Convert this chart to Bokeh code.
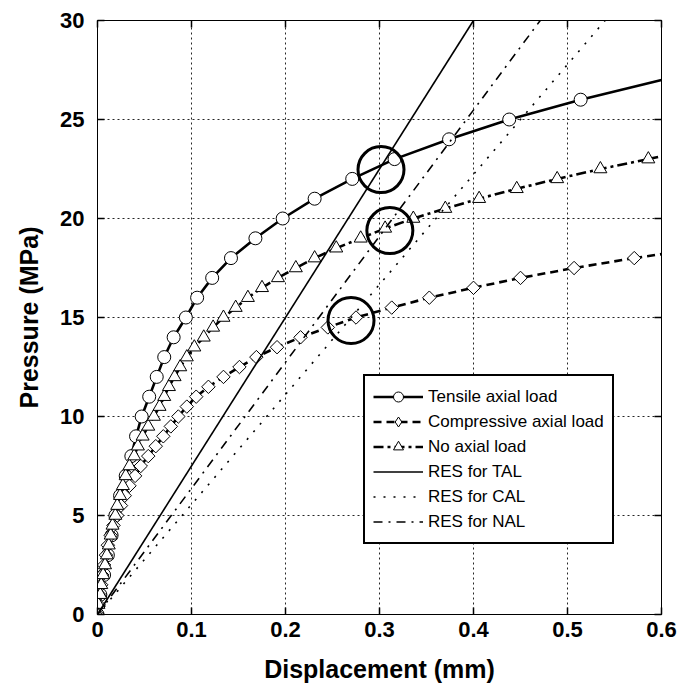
import numpy as np
from bokeh.plotting import figure
from bokeh.models import (Range1d, FixedTicker, CustomJSTickFormatter, LinearAxis,
                          Legend, LegendItem)
from bokeh.embed import file_html
from bokeh.resources import INLINE

# ---------------- data ----------------
# Tensile axial load (circles)
tal_y = [0, 1, 2, 3, 4, 5, 6, 7, 8, 9, 10, 11, 12, 13, 14, 15, 16, 17, 18, 19, 20,
         21, 22, 23, 24, 25, 26]
tal_x = [0.0, 0.003, 0.007, 0.011, 0.015, 0.019, 0.024, 0.030, 0.036, 0.041, 0.047,
         0.055, 0.063, 0.071, 0.081, 0.094, 0.106, 0.122, 0.142, 0.168, 0.197,
         0.231, 0.271, 0.316, 0.374, 0.438, 0.514]
tal_end_x = [0.514, 0.6]
tal_end_y = [26, 27.0]

# Compressive axial load (diamonds)
cal_y = [0, 0.5, 1, 1.5, 2, 2.5, 3, 3.5, 4, 4.5, 5, 5.5, 6, 6.5, 7, 7.5, 8, 8.5, 9,
         9.5, 10, 10.5, 11, 11.5, 12, 12.5, 13, 13.5, 14, 14.5, 15, 15.5, 16, 16.5,
         17, 17.5, 18]
cal_x = [0.0, 0.001, 0.002, 0.004, 0.005, 0.007, 0.009, 0.011, 0.014, 0.017, 0.021,
         0.025, 0.029, 0.034, 0.040, 0.046, 0.054, 0.062, 0.070, 0.078, 0.086,
         0.095, 0.105, 0.118, 0.134, 0.151, 0.169, 0.191, 0.216, 0.245, 0.275,
         0.313, 0.353, 0.400, 0.450, 0.507, 0.571]
cal_end_x = [0.571, 0.6]
cal_end_y = [18, 18.2]

# No axial load (triangles)
nal_y = [0, 0.5, 1, 1.5, 2, 2.5, 3, 3.5, 4, 4.5, 5, 5.5, 6, 6.5, 7, 7.5, 8, 8.5, 9,
         9.5, 10, 10.5, 11, 11.5, 12, 12.5, 13, 13.5, 14, 14.5, 15, 15.5, 16, 16.5,
         17, 17.5, 18, 18.5, 19, 19.5, 20, 20.5, 21, 21.5, 22, 22.5, 23]
nal_x = [0.0, 0.001, 0.003, 0.004, 0.006, 0.008, 0.010, 0.012, 0.014, 0.016, 0.019,
         0.021, 0.024, 0.027, 0.030, 0.034, 0.039, 0.043, 0.048, 0.054, 0.060,
         0.066, 0.071, 0.076, 0.082, 0.088, 0.095, 0.103, 0.113, 0.123, 0.134,
         0.147, 0.160, 0.175, 0.192, 0.211, 0.231, 0.254, 0.280, 0.306, 0.336,
         0.370, 0.406, 0.446, 0.489, 0.535, 0.586]
nal_end_x = [0.586, 0.6]
nal_end_y = [23, 23.15]

# RES straight lines
res_tal_x = [0.0, 0.4]
res_tal_y = [0.0, 30.0]
res_cal_x = [0.0, 0.54]
res_cal_y = [0.0, 30.0]
res_nal_x = [0.0, 0.471]
res_nal_y = [0.0, 30.0]

# highlighted intersection circles
mark_x = [0.3016, 0.311, 0.2697]
mark_y = [22.47, 19.39, 14.85]

x_ticks = [0, 0.1, 0.2, 0.3, 0.4, 0.5, 0.6]
y_ticks = [0, 5, 10, 15, 20, 25, 30]

# ---------------- figure ----------------
p = figure(width=678, height=688, output_backend="svg", toolbar_location=None,
           x_range=Range1d(0, 0.6), y_range=Range1d(0, 30),
           min_border_left=97, min_border_right=17, min_border_top=20,
           min_border_bottom=74)
p.outline_line_color = "black"
p.outline_line_width = 1
p.background_fill_color = "white"
p.border_fill_color = "white"

font = "Liberation Sans, Arial, sans-serif"

xfmt = CustomJSTickFormatter(code="return tick === 0 ? '0' : tick.toFixed(1);")
yfmt = CustomJSTickFormatter(code="return tick.toFixed(0);")

for ax, ticks, fmt in ((p.xaxis[0], x_ticks, xfmt), (p.yaxis[0], y_ticks, yfmt)):
    ax.ticker = FixedTicker(ticks=ticks)
    ax.formatter = fmt
    ax.major_tick_in = 7
    ax.major_tick_out = 0
    ax.minor_tick_line_color = None
    ax.major_label_text_font = font
    ax.major_label_text_font_style = "bold"
    ax.major_label_text_font_size = "22px"
    ax.major_label_text_color = "black"
    ax.axis_label_text_font = font
    ax.axis_label_text_font_style = "bold"
    ax.axis_label_text_font_size = "25px"
    ax.axis_label_text_color = "black"
    ax.axis_line_color = "black"
    ax.major_tick_line_color = "black"
    ax.major_tick_line_width = 1.5

p.xaxis[0].axis_label = "Displacement (mm)"
p.yaxis[0].axis_label = "Pressure (MPa)"
p.xaxis[0].major_label_standoff = 7
p.yaxis[0].major_label_standoff = 13
p.xaxis[0].axis_label_standoff = 15
p.yaxis[0].axis_label_standoff = 14

blank = CustomJSTickFormatter(code="return '';")
for side, ticks in (("right", y_ticks), ("above", x_ticks)):
    ax = LinearAxis(ticker=FixedTicker(ticks=ticks), formatter=blank,
                    major_tick_in=7, major_tick_out=0, minor_tick_line_color=None,
                    major_label_text_font_size="1px", major_label_standoff=0,
                    axis_line_color="black", major_tick_line_color="black",
                    major_tick_line_width=1.5)
    p.add_layout(ax, side)

for g, ticks in ((p.xgrid[0], x_ticks), (p.ygrid[0], y_ticks)):
    g.ticker = FixedTicker(ticks=ticks)
    g.grid_line_color = "black"
    g.grid_line_dash = "2 3"
    g.grid_line_width = 1
    g.grid_line_alpha = 0.85

# ---------------- series ----------------
lw = 2.6
r_tal_l = p.line(tal_x, tal_y, line_color="black", line_width=lw)
p.line(tal_end_x, tal_end_y, line_color="black", line_width=lw)
r_tal_m = p.scatter(tal_x, tal_y, marker="circle", size=13, fill_color="white",
                    line_color="black", line_width=1)

r_cal_l = p.line(cal_x, cal_y, line_color="black", line_width=lw, line_dash="8 5")
p.line(cal_end_x, cal_end_y, line_color="black", line_width=lw, line_dash="8 5")
p.scatter(cal_x, cal_y, marker="square", angle=np.pi / 4, size=9.5,
          fill_color="white", line_color="black", line_width=1)
# legend proxy (a diamond drawn upright in the legend)
r_cal_m = p.scatter(cal_x[:1], cal_y[:1], marker="diamond", size=13,
                    fill_color="white", line_color="black", line_width=1,
                    visible=False)

r_nal_l = p.line(nal_x, nal_y, line_color="black", line_width=lw, line_dash="10 4 3 4")
p.line(nal_end_x, nal_end_y, line_color="black", line_width=lw, line_dash="10 4 3 4")
r_nal_m = p.scatter(nal_x, nal_y, marker="triangle", size=13, fill_color="white",
                    line_color="black", line_width=1)

r_res_tal = p.line(res_tal_x, res_tal_y, line_color="black", line_width=1.6)
r_res_cal = p.line(res_cal_x, res_cal_y, line_color="black", line_width=1.6,
                   line_dash="2 8")
r_res_nal = p.line(res_nal_x, res_nal_y, line_color="black", line_width=1.6,
                   line_dash="9 6 2 6")

p.scatter(mark_x, mark_y, marker="circle", size=46, fill_color=None,
          line_color="black", line_width=3)

legend = Legend(items=[
    LegendItem(label="Tensile axial load", renderers=[r_tal_l, r_tal_m]),
    LegendItem(label="Compressive axial load", renderers=[r_cal_l, r_cal_m]),
    LegendItem(label="No axial load", renderers=[r_nal_l, r_nal_m]),
    LegendItem(label="RES for TAL", renderers=[r_res_tal]),
    LegendItem(label="RES for CAL", renderers=[r_res_cal]),
    LegendItem(label="RES for NAL", renderers=[r_res_nal]),
], location=(266, 70))
legend.label_text_font = font
legend.label_text_font_size = "17px"
legend.label_text_color = "black"
legend.glyph_width = 50
legend.glyph_height = 25
legend.label_height = 25
legend.label_standoff = 5
legend.spacing = 0
legend.padding = 8
legend.margin = 0
legend.border_line_color = "black"
legend.border_line_alpha = 1
legend.border_line_width = 2.5
legend.background_fill_color = "white"
legend.background_fill_alpha = 1
legend.inactive_fill_alpha = 0
p.add_layout(legend, "center")

open("out.html", "w").write(file_html(p, INLINE))
